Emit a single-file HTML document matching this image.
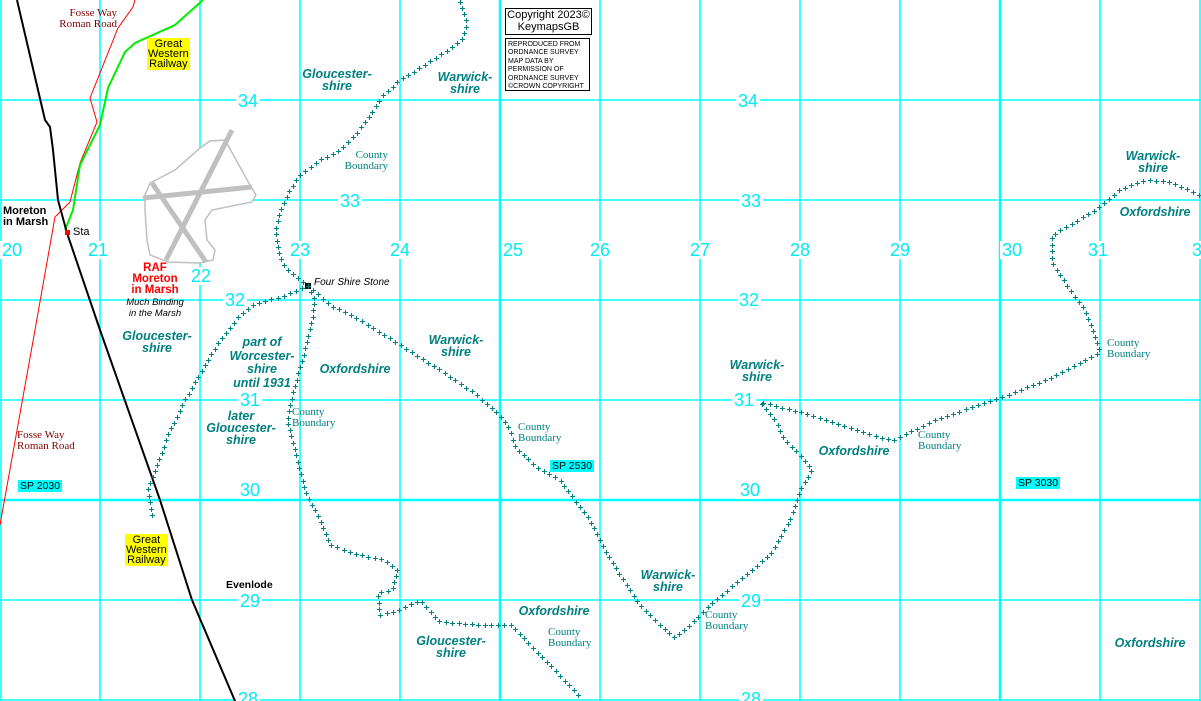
<!DOCTYPE html>
<html><head><meta charset="utf-8">
<style>
body{margin:0;background:#fff;}
#m{position:relative;width:1201px;height:701px;overflow:hidden;background:#fff;font-family:"Liberation Sans",sans-serif;}
svg{position:absolute;left:0;top:0;}
.t{position:absolute;color:#008080;font:italic bold 12.5px "Liberation Sans",sans-serif;text-align:center;line-height:12px;white-space:nowrap;transform:translateX(-50%);}
.cb{position:absolute;color:#008080;font:11px "Liberation Serif",serif;line-height:11px;white-space:nowrap;}
.n{position:absolute;color:#00ecf4;font:18px "Liberation Sans",sans-serif;background:#fff;line-height:18px;padding:0 2px;transform:translate(-50%,-50%);}
.sp{position:absolute;background:#00ffff;color:#000;font:10.5px "Liberation Sans",sans-serif;padding:0 2px;line-height:12px;}
.y{position:absolute;background:#ffff00;color:#000;font:11px "Liberation Sans",sans-serif;line-height:10px;text-align:center;padding:1px 1px;}
</style></head><body>
<div id="m">
<svg width="1201" height="701" id="s">
<g stroke="#00ffff" stroke-width="1.5">
<line x1="1" y1="0" x2="1" y2="701"/>
<line x1="100" y1="0" x2="100" y2="701"/><line x1="200" y1="0" x2="200" y2="701"/><line x1="300" y1="0" x2="300" y2="701"/><line x1="400" y1="0" x2="400" y2="701"/>
<line x1="500" y1="0" x2="500" y2="701" stroke-width="2.5"/><line x1="600" y1="0" x2="600" y2="701"/><line x1="700" y1="0" x2="700" y2="701"/><line x1="800" y1="0" x2="800" y2="701"/><line x1="900" y1="0" x2="900" y2="701"/><line x1="1000" y1="0" x2="1000" y2="701" stroke-width="2.5"/><line x1="1100" y1="0" x2="1100" y2="701"/><line x1="1200" y1="0" x2="1200" y2="701"/>
<line x1="0" y1="100" x2="1201" y2="100"/><line x1="0" y1="200" x2="1201" y2="200"/><line x1="0" y1="300" x2="1201" y2="300"/><line x1="0" y1="400" x2="1201" y2="400"/><line x1="0" y1="500" x2="1201" y2="500" stroke-width="2.5"/><line x1="0" y1="600" x2="1201" y2="600"/><line x1="0" y1="700" x2="1201" y2="700"/>
</g>
<polygon points="200,148 210,141 225,140 250,185 256,195 252,202 212,210 205,220 207,240 215,250 213,260 200,263 168,262 150,255 147,240 145,210 145,195 150,183 175,170" fill="#fff" stroke="#c0c0c0" stroke-width="1.5"/>
<g stroke="#c0c0c0" stroke-width="5"><line x1="232" y1="130" x2="166" y2="260"/><line x1="143" y1="198" x2="252" y2="187"/><line x1="152" y1="183" x2="206" y2="262"/></g>
<polyline fill="none" stroke="#ff0000" stroke-width="1" points="135,0 133,7 118,28 90,98 97,122 80,163 70,202 55,217 35,330 0,525"/>
<polyline fill="none" stroke="#00ee00" stroke-width="2" points="203,0 175,25 135,43 125,52 108,88 100,125 80,165 73,210 65,230"/>
<polyline fill="none" stroke="#000" stroke-width="2" points="17,0 45,120 50,127 53,150 58,200 67,233 100,330 160,500 192,600 235,701"/>
<rect x="305" y="283" width="6" height="6" fill="#000"/>
<rect x="65" y="230" width="5" height="5" fill="#f00"/>
<g id="cr" stroke="#008080" stroke-width="1"></g>
</svg>

<div class="n" style="left:12px;top:250px">20</div><div class="n" style="left:98px;top:250px">21</div><div class="n" style="left:201px;top:276px">22</div><div class="n" style="left:300px;top:250px">23</div><div class="n" style="left:400px;top:250px">24</div><div class="n" style="left:513px;top:250px">25</div><div class="n" style="left:600px;top:250px">26</div><div class="n" style="left:700px;top:250px">27</div><div class="n" style="left:800px;top:250px">28</div><div class="n" style="left:900px;top:250px">29</div><div class="n" style="left:1012px;top:250px">30</div><div class="n" style="left:1098px;top:250px">31</div><div class="n" style="left:1197px;top:250px">3</div>
<div class="n" style="left:248px;top:101px">34</div><div class="n" style="left:748px;top:101px">34</div>
<div class="n" style="left:350px;top:201px">33</div><div class="n" style="left:751px;top:201px">33</div>
<div class="n" style="left:235px;top:300px">32</div><div class="n" style="left:749px;top:300px">32</div>
<div class="n" style="left:250px;top:400px">31</div><div class="n" style="left:744px;top:400px">31</div>
<div class="n" style="left:250px;top:490px">30</div><div class="n" style="left:750px;top:490px">30</div>
<div class="n" style="left:250px;top:601px">29</div><div class="n" style="left:751px;top:601px">29</div>
<div class="n" style="left:248px;top:699px">28</div><div class="n" style="left:751px;top:699px">28</div>

<div style="position:absolute;left:505px;top:8px;width:85px;height:25px;border:1px solid #000;background:#fff;font:11px 'Liberation Sans',sans-serif;text-align:center;line-height:12px">Copyright 2023©<br>KeymapsGB</div>
<div style="position:absolute;left:505px;top:38px;width:85px;height:53px;border:1px solid #000;background:#fff;font:7px 'Liberation Sans',sans-serif;line-height:8.4px;padding-left:2px;box-sizing:border-box;padding-top:2px;white-space:nowrap;overflow:hidden">REPRODUCED FROM<br>ORDNANCE SURVEY<br>MAP DATA BY<br>PERMISSION OF<br>ORDNANCE SURVEY<br>©CROWN COPYRIGHT</div>

<div style="position:absolute;left:52px;top:8px;color:#800000;font:11px 'Liberation Serif',serif;line-height:11px;text-align:right;width:65px">Fosse Way<br>Roman Road</div>
<div style="position:absolute;left:17px;top:430px;color:#800000;font:11px 'Liberation Serif',serif;line-height:11px">Fosse Way<br>Roman Road</div>
<div class="y" style="left:147px;top:38px">Great<br>Western<br>Railway</div>
<div class="y" style="left:125px;top:534px">Great<br>Western<br>Railway</div>
<div style="position:absolute;left:3px;top:206px;font:bold 11px 'Liberation Sans',sans-serif;line-height:11px;background:#fff">Moreton<br>in Marsh</div>
<div style="position:absolute;left:73px;top:226px;font:11px 'Liberation Sans',sans-serif">Sta</div>
<div style="position:absolute;left:155px;top:263px;transform:translateX(-50%);color:#f00;font:bold 11.5px 'Liberation Sans',sans-serif;line-height:11px;text-align:center">RAF<br>Moreton<br>in Marsh</div>
<div style="position:absolute;left:155px;top:297px;transform:translateX(-50%);font:italic 9.5px 'Liberation Sans',sans-serif;line-height:11px;text-align:center;white-space:nowrap">Much Binding<br>in the Marsh</div>
<div style="position:absolute;left:314px;top:277px;font:italic 10px 'Liberation Sans',sans-serif">Four Shire Stone</div>
<div style="position:absolute;left:226px;top:579px;font:bold 10.5px 'Liberation Sans',sans-serif">Evenlode</div>

<div class="t" style="left:337px;top:68px">Gloucester-<br>shire</div>
<div class="t" style="left:465px;top:71px">Warwick-<br>shire</div>
<div class="t" style="left:157px;top:330px">Gloucester-<br>shire</div>
<div class="t" style="left:262px;top:336px;line-height:13.5px">part of<br>Worcester-<br>shire<br>until 1931</div>
<div class="t" style="left:355px;top:363px">Oxfordshire</div>
<div class="t" style="left:241px;top:410px">later<br>Gloucester-<br>shire</div>
<div class="t" style="left:456px;top:334px">Warwick-<br>shire</div>
<div class="t" style="left:757px;top:359px">Warwick-<br>shire</div>
<div class="t" style="left:854px;top:445px">Oxfordshire</div>
<div class="t" style="left:668px;top:569px">Warwick-<br>shire</div>
<div class="t" style="left:554px;top:605px">Oxfordshire</div>
<div class="t" style="left:451px;top:635px">Gloucester-<br>shire</div>
<div class="t" style="left:1150px;top:637px">Oxfordshire</div>
<div class="t" style="left:1153px;top:150px">Warwick-<br>shire</div>
<div class="t" style="left:1155px;top:206px">Oxfordshire</div>

<div class="cb" style="left:340px;top:150px;text-align:right;width:48px">County<br>Boundary</div>
<div class="cb" style="left:292px;top:407px">County<br>Boundary</div>
<div class="cb" style="left:518px;top:422px">County<br>Boundary</div>
<div class="cb" style="left:548px;top:627px">County<br>Boundary</div>
<div class="cb" style="left:705px;top:610px">County<br>Boundary</div>
<div class="cb" style="left:918px;top:430px">County<br>Boundary</div>
<div class="cb" style="left:1107px;top:338px">County<br>Boundary</div>

<div class="sp" style="left:18px;top:480px">SP 2030</div>
<div class="sp" style="left:550px;top:460px">SP 2530</div>
<div class="sp" style="left:1016px;top:477px">SP 3030</div>
</div>
<script>
var paths=[
[[460,2],[462,10],[467,22],[463,38],[445,52],[420,68],[400,80],[383,95],[370,115],[355,135],[340,150],[320,160],[300,175],[290,190],[280,210],[276,230],[278,250],[283,265],[295,275],[308,286]],
[[308,286],[330,305],[360,320],[400,345],[440,370],[470,390],[500,415],[510,430],[515,447],[538,468],[560,480],[575,500],[590,520],[605,550],[620,575],[640,605],[660,625],[675,638],[690,625],[710,605],[740,580],[770,555],[790,520],[800,490],[812,470],[800,455],[785,440],[775,420],[760,402],[800,412],[850,428],[893,441],[910,432],[940,418],[1000,398],[1050,378],[1100,352],[1095,335],[1085,310],[1070,290],[1052,262],[1052,235],[1070,225],[1095,210],[1120,190],[1145,180],[1170,182],[1200,195]],
[[308,286],[280,297],[252,305],[240,315],[220,340],[205,365],[185,400],[170,430],[155,470],[148,490],[152,515]],
[[308,286],[315,300],[312,320],[305,350],[295,385],[287,420],[295,450],[305,490],[320,520],[330,545],[360,555],[385,560],[398,570],[392,590],[378,593],[380,615],[400,610],[420,600],[440,622],[480,625],[512,625],[530,645],[555,670],[580,697]]
];
var g=document.getElementById('cr'),ns='http://www.w3.org/2000/svg',d='';
paths.forEach(function(p){var carry=0;for(var i=0;i<p.length-1;i++){var a=p[i],b=p[i+1],dx=b[0]-a[0],dy=b[1]-a[1],L=Math.hypot(dx,dy),t=carry;while(t<L){var x=Math.round(a[0]+dx*t/L)+.5,y=Math.round(a[1]+dy*t/L)+.5;d+='M'+(x-2.5)+' '+y+'h5M'+x+' '+(y-2.5)+'v5';t+=6.5;}carry=t-L;}});
var e=document.createElementNS(ns,'path');e.setAttribute('d',d);g.appendChild(e);
</script>
</body></html>
